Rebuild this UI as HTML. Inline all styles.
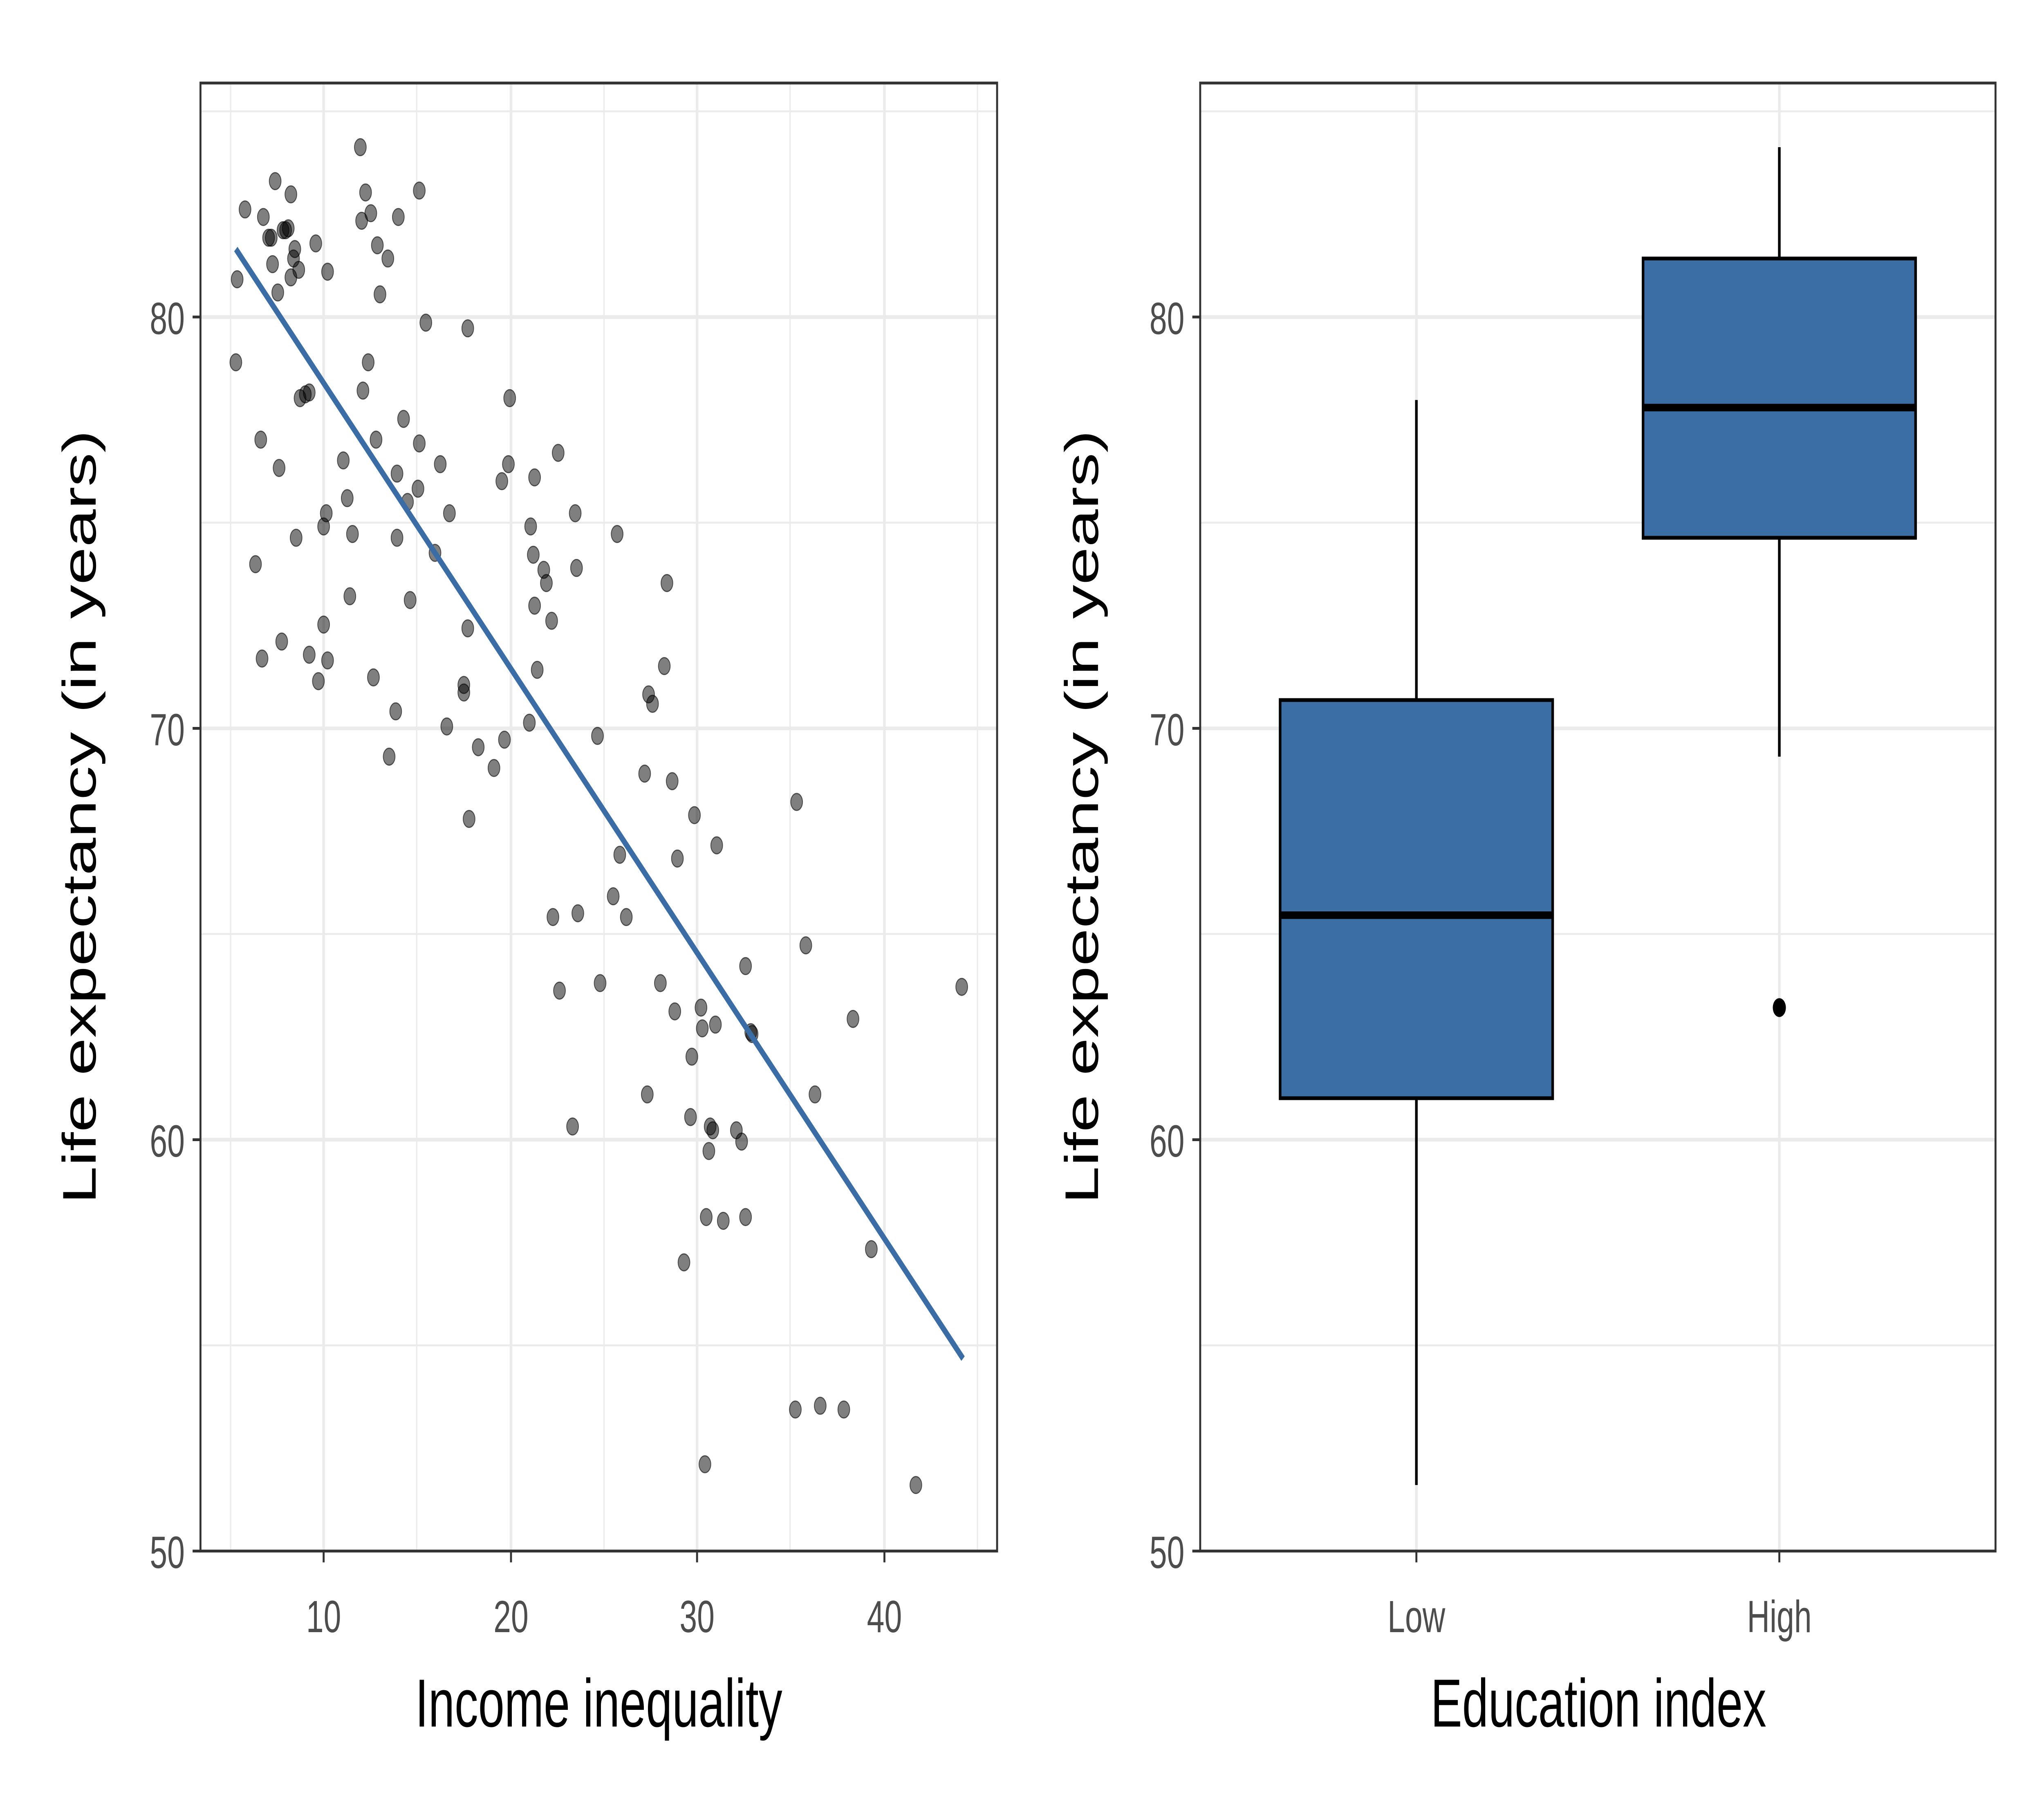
<!DOCTYPE html>
<html><head><meta charset="utf-8"><style>html,body{margin:0;padding:0;background:#fff;overflow:hidden;width:100%;height:100%}svg{display:block;position:fixed;left:0;top:0;width:100vw;height:100vh}</style></head>
<body>
<svg viewBox="0 0 1560 964" preserveAspectRatio="none" xmlns="http://www.w3.org/2000/svg" font-family="Liberation Sans, Arial, sans-serif">
<rect width="1560" height="964" fill="#fff"/>
<g stroke="#ebebeb" stroke-width="1">
<line x1="153" x2="761" y1="59" y2="59"/><line x1="153" x2="761" y1="277" y2="277"/><line x1="153" x2="761" y1="495" y2="495"/><line x1="153" x2="761" y1="713" y2="713"/>
<line x1="176" x2="176" y1="44" y2="822"/><line x1="318" x2="318" y1="44" y2="822"/><line x1="461" x2="461" y1="44" y2="822"/><line x1="603" x2="603" y1="44" y2="822"/><line x1="746" x2="746" y1="44" y2="822"/>
</g>
<g stroke="#ebebeb" stroke-width="2">
<line x1="153" x2="761" y1="168" y2="168"/><line x1="153" x2="761" y1="386" y2="386"/><line x1="153" x2="761" y1="604" y2="604"/>
<line x1="247" x2="247" y1="44" y2="822"/><line x1="390" x2="390" y1="44" y2="822"/><line x1="532" x2="532" y1="44" y2="822"/><line x1="675" x2="675" y1="44" y2="822"/>
</g>
<g fill="#000" fill-opacity="0.5" stroke="#000" stroke-opacity="0.6" stroke-width="0.6">
<circle cx="180" cy="192" r="4.5"/><circle cx="181" cy="148" r="4.5"/><circle cx="187" cy="111" r="4.5"/><circle cx="195" cy="299" r="4.5"/><circle cx="199" cy="233" r="4.5"/><circle cx="200" cy="349" r="4.5"/><circle cx="201" cy="115" r="4.5"/><circle cx="205" cy="126" r="4.5"/><circle cx="207" cy="126" r="4.5"/><circle cx="208" cy="140" r="4.5"/><circle cx="210" cy="96" r="4.5"/><circle cx="212" cy="155" r="4.5"/><circle cx="213" cy="248" r="4.5"/><circle cx="215" cy="340" r="4.5"/><circle cx="216" cy="122" r="4.5"/><circle cx="218" cy="122" r="4.5"/><circle cx="220" cy="121" r="4.5"/><circle cx="222" cy="103" r="4.5"/><circle cx="222" cy="147" r="4.5"/><circle cx="224" cy="137" r="4.5"/><circle cx="225" cy="132" r="4.5"/><circle cx="226" cy="285" r="4.5"/><circle cx="228" cy="143" r="4.5"/><circle cx="229" cy="211" r="4.5"/><circle cx="233" cy="209" r="4.5"/><circle cx="236" cy="208" r="4.5"/><circle cx="236" cy="347" r="4.5"/><circle cx="241" cy="129" r="4.5"/><circle cx="243" cy="361" r="4.5"/><circle cx="247" cy="279" r="4.5"/><circle cx="247" cy="331" r="4.5"/><circle cx="249" cy="272" r="4.5"/><circle cx="250" cy="144" r="4.5"/><circle cx="250" cy="350" r="4.5"/><circle cx="262" cy="244" r="4.5"/><circle cx="265" cy="264" r="4.5"/><circle cx="267" cy="316" r="4.5"/><circle cx="269" cy="283" r="4.5"/><circle cx="275" cy="78" r="4.5"/><circle cx="276" cy="117" r="4.5"/><circle cx="277" cy="207" r="4.5"/><circle cx="279" cy="102" r="4.5"/><circle cx="281" cy="192" r="4.5"/><circle cx="283" cy="113" r="4.5"/><circle cx="285" cy="359" r="4.5"/><circle cx="287" cy="233" r="4.5"/><circle cx="288" cy="130" r="4.5"/><circle cx="290" cy="156" r="4.5"/><circle cx="296" cy="137" r="4.5"/><circle cx="302" cy="377" r="4.5"/><circle cx="297" cy="401" r="4.5"/><circle cx="303" cy="251" r="4.5"/><circle cx="303" cy="285" r="4.5"/><circle cx="304" cy="115" r="4.5"/><circle cx="308" cy="222" r="4.5"/><circle cx="311" cy="266" r="4.5"/><circle cx="313" cy="318" r="4.5"/><circle cx="320" cy="101" r="4.5"/><circle cx="320" cy="235" r="4.5"/><circle cx="319" cy="259" r="4.5"/><circle cx="325" cy="171" r="4.5"/><circle cx="332" cy="293" r="4.5"/><circle cx="336" cy="246" r="4.5"/><circle cx="341" cy="385" r="4.5"/><circle cx="343" cy="272" r="4.5"/><circle cx="354" cy="367" r="4.5"/><circle cx="354" cy="363" r="4.5"/><circle cx="357" cy="333" r="4.5"/><circle cx="357" cy="174" r="4.5"/><circle cx="358" cy="434" r="4.5"/><circle cx="365" cy="396" r="4.5"/><circle cx="377" cy="407" r="4.5"/><circle cx="383" cy="255" r="4.5"/><circle cx="385" cy="392" r="4.5"/><circle cx="388" cy="246" r="4.5"/><circle cx="389" cy="211" r="4.5"/><circle cx="404" cy="383" r="4.5"/><circle cx="405" cy="279" r="4.5"/><circle cx="407" cy="294" r="4.5"/><circle cx="408" cy="253" r="4.5"/><circle cx="408" cy="321" r="4.5"/><circle cx="410" cy="355" r="4.5"/><circle cx="415" cy="302" r="4.5"/><circle cx="417" cy="309" r="4.5"/><circle cx="421" cy="329" r="4.5"/><circle cx="422" cy="486" r="4.5"/><circle cx="426" cy="240" r="4.5"/><circle cx="427" cy="525" r="4.5"/><circle cx="437" cy="597" r="4.5"/><circle cx="439" cy="272" r="4.5"/><circle cx="440" cy="301" r="4.5"/><circle cx="441" cy="484" r="4.5"/><circle cx="456" cy="390" r="4.5"/><circle cx="458" cy="521" r="4.5"/><circle cx="468" cy="475" r="4.5"/><circle cx="471" cy="283" r="4.5"/><circle cx="473" cy="453" r="4.5"/><circle cx="478" cy="486" r="4.5"/><circle cx="492" cy="410" r="4.5"/><circle cx="494" cy="580" r="4.5"/><circle cx="495" cy="368" r="4.5"/><circle cx="498" cy="373" r="4.5"/><circle cx="504" cy="521" r="4.5"/><circle cx="507" cy="353" r="4.5"/><circle cx="509" cy="309" r="4.5"/><circle cx="513" cy="414" r="4.5"/><circle cx="515" cy="536" r="4.5"/><circle cx="517" cy="455" r="4.5"/><circle cx="522" cy="669" r="4.5"/><circle cx="527" cy="592" r="4.5"/><circle cx="528" cy="560" r="4.5"/><circle cx="530" cy="432" r="4.5"/><circle cx="535" cy="534" r="4.5"/><circle cx="536" cy="545" r="4.5"/><circle cx="539" cy="645" r="4.5"/><circle cx="538" cy="776" r="4.5"/><circle cx="541" cy="610" r="4.5"/><circle cx="542" cy="597" r="4.5"/><circle cx="544" cy="599" r="4.5"/><circle cx="546" cy="543" r="4.5"/><circle cx="547" cy="448" r="4.5"/><circle cx="552" cy="647" r="4.5"/><circle cx="562" cy="599" r="4.5"/><circle cx="566" cy="605" r="4.5"/><circle cx="569" cy="645" r="4.5"/><circle cx="569" cy="512" r="4.5"/><circle cx="573" cy="547" r="4.5"/><circle cx="574" cy="548" r="4.5"/><circle cx="607" cy="747" r="4.5"/><circle cx="608" cy="425" r="4.5"/><circle cx="615" cy="501" r="4.5"/><circle cx="622" cy="580" r="4.5"/><circle cx="626" cy="745" r="4.5"/><circle cx="644" cy="747" r="4.5"/><circle cx="651" cy="540" r="4.5"/><circle cx="665" cy="662" r="4.5"/><circle cx="699" cy="787" r="4.5"/><circle cx="734" cy="523" r="4.5"/>
</g>
<line x1="180" y1="132" x2="735" y2="720" stroke="#3a6ca5" stroke-width="3.5"/>
<rect x="153" y="44" width="608" height="778" fill="none" stroke="#333" stroke-width="1.5"/>
<g stroke="#333" stroke-width="1.5">
<line x1="147" x2="153" y1="168" y2="168"/><line x1="147" x2="153" y1="386" y2="386"/><line x1="147" x2="153" y1="604" y2="604"/><line x1="147" x2="153" y1="822" y2="822"/>
<line x1="247" x2="247" y1="822" y2="828"/><line x1="390" x2="390" y1="822" y2="828"/><line x1="532" x2="532" y1="822" y2="828"/><line x1="675" x2="675" y1="822" y2="828"/>
</g>
<g fill="#4d4d4d" font-size="24" text-anchor="end">
<text x="141" y="177">80</text><text x="141" y="395">70</text><text x="141" y="613">60</text><text x="141" y="831">50</text>
</g>
<g fill="#4d4d4d" font-size="24" text-anchor="middle">
<text x="247" y="865">10</text><text x="390" y="865">20</text><text x="532" y="865">30</text><text x="675" y="865">40</text>
</g>
<text x="457" y="915" font-size="36" text-anchor="middle">Income inequality</text>
<text transform="translate(73,433) rotate(-90)" font-size="36" text-anchor="middle">Life expectancy (in years)</text>

<g stroke="#ebebeb" stroke-width="1">
<line x1="916" x2="1523" y1="59" y2="59"/><line x1="916" x2="1523" y1="277" y2="277"/><line x1="916" x2="1523" y1="495" y2="495"/><line x1="916" x2="1523" y1="713" y2="713"/>
</g>
<g stroke="#ebebeb" stroke-width="2">
<line x1="916" x2="1523" y1="168" y2="168"/><line x1="916" x2="1523" y1="386" y2="386"/><line x1="916" x2="1523" y1="604" y2="604"/>
<line x1="1081" x2="1081" y1="44" y2="822"/><line x1="1358" x2="1358" y1="44" y2="822"/>
</g>
<g stroke="#000" stroke-width="2">
<line x1="1081" x2="1081" y1="212" y2="371"/><line x1="1081" x2="1081" y1="582" y2="787"/>
<rect x="977" y="371" width="208" height="211" fill="#3a6ea5"/>
<line x1="977" x2="1185" y1="485" y2="485" stroke-width="4"/>
<line x1="1358" x2="1358" y1="78" y2="137"/><line x1="1358" x2="1358" y1="285" y2="401"/>
<rect x="1254" y="137" width="208" height="148" fill="#3a6ea5"/>
<line x1="1254" x2="1462" y1="216" y2="216" stroke-width="4"/>
</g>
<circle cx="1358" cy="534" r="5" fill="#000"/>
<rect x="916" y="44" width="607" height="778" fill="none" stroke="#333" stroke-width="1.5"/>
<g stroke="#333" stroke-width="1.5">
<line x1="910" x2="916" y1="168" y2="168"/><line x1="910" x2="916" y1="386" y2="386"/><line x1="910" x2="916" y1="604" y2="604"/><line x1="910" x2="916" y1="822" y2="822"/>
<line x1="1081" x2="1081" y1="822" y2="828"/><line x1="1358" x2="1358" y1="822" y2="828"/>
</g>
<g fill="#4d4d4d" font-size="24" text-anchor="end">
<text x="904" y="177">80</text><text x="904" y="395">70</text><text x="904" y="613">60</text><text x="904" y="831">50</text>
</g>
<g fill="#4d4d4d" font-size="24" text-anchor="middle">
<text x="1081" y="865">Low</text><text x="1358" y="865">High</text>
</g>
<text x="1220" y="915" font-size="36" text-anchor="middle">Education index</text>
<text transform="translate(838,433) rotate(-90)" font-size="36" text-anchor="middle">Life expectancy (in years)</text>
</svg>
</body></html>
